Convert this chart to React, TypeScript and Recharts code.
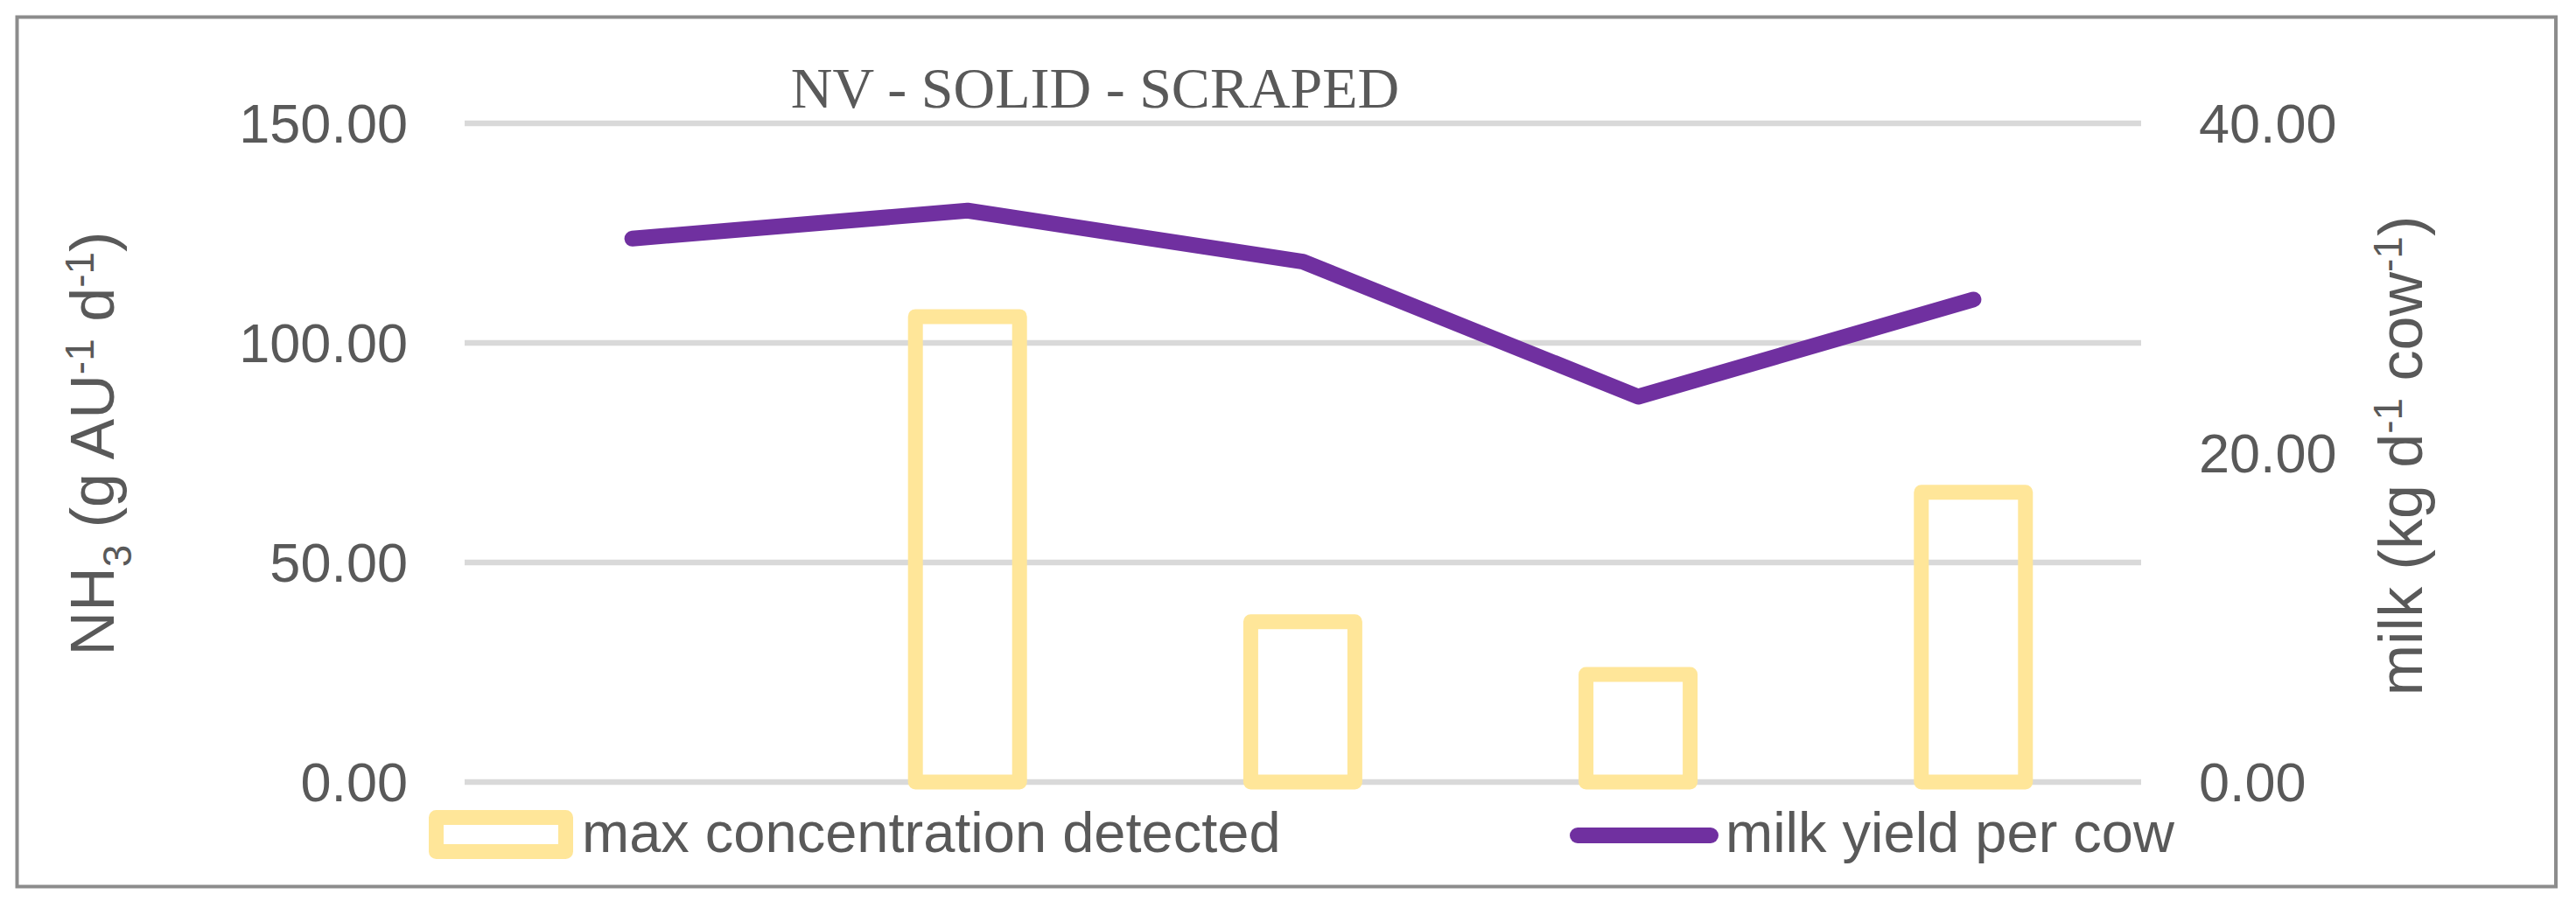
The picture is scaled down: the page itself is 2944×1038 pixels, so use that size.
import React from 'react';
import { ComposedChart, Bar, Line, XAxis, YAxis, CartesianGrid, Customized } from 'recharts';

const categories = ['1', '2', '3', '4', '5'];
const maxConcentration: (number | null)[] = [null, 106.0, 36.5, 24.5, 66.0];
const milkYield = [33.0, 34.7, 31.6, 23.4, 29.3];
const leftTicks = [0, 50, 100, 150];
const rightTicks = [0, 20, 40];

const title = 'NV - SOLID - SCRAPED';
const barName = 'max concentration detected';
const lineName = 'milk yield per cow';

const data = categories.map((c, i) => ({ cat: c, nh3: maxConcentration[i], milk: milkYield[i] }));

const TEXT = '#595959';
const SANS = '"Liberation Sans", Arial, sans-serif';
const SERIF = '"Liberation Serif", "Times New Roman", serif';
const BAR_COLOR = '#FFE699';
const LINE_COLOR = '#7030A0';

const Overlay = () => (
  <g>
    <rect x={19.5} y={19.5} width={2901.5} height={994} fill="none" stroke="#8C8C8C" strokeWidth={4} />
    <text x={1251.5} y={123} textAnchor="middle" fontFamily={SERIF} fontSize={66} fill={TEXT}>
      {title}
    </text>
    <text
      x={130}
      y={507}
      transform="rotate(-90 130 507)"
      textAnchor="middle"
      fontFamily={SANS}
      fontSize={70}
      fill={TEXT}
      style={{ whiteSpace: 'pre' }}
    >
      <tspan>NH</tspan>
      <tspan fontSize={46} dy={20}>3</tspan>
      <tspan dy={-20}>{' (g AU'}</tspan>
      <tspan fontSize={46} dy={-23}>-1</tspan>
      <tspan dy={23}>{' d'}</tspan>
      <tspan fontSize={46} dy={-23}>-1</tspan>
      <tspan dy={23}>)</tspan>
    </text>
    <text
      x={2768}
      y={521}
      transform="rotate(-90 2768 521)"
      textAnchor="middle"
      fontFamily={SANS}
      fontSize={70}
      fill={TEXT}
      style={{ whiteSpace: 'pre' }}
    >
      <tspan>{'milk (kg d'}</tspan>
      <tspan fontSize={46} dy={-23}>-1</tspan>
      <tspan dy={23}>{' cow'}</tspan>
      <tspan fontSize={46} dy={-23}>-1</tspan>
      <tspan dy={23}>)</tspan>
    </text>
    <rect x={498.5} y={934.5} width={148} height={39} fill="none" stroke={BAR_COLOR} strokeWidth={17} strokeLinejoin="round" />
    <text x={665} y={974} fontFamily={SANS} fontSize={65} fill={TEXT}>{barName}</text>
    <line x1={1803} y1={955} x2={1955} y2={955} stroke={LINE_COLOR} strokeWidth={18} strokeLinecap="round" />
    <text x={1972} y={974} fontFamily={SANS} fontSize={65} fill={TEXT}>{lineName}</text>
  </g>
);

const fmt = (v: number) => v.toFixed(2);

export default function App() {
  return (
    <div style={{ position: 'absolute', left: 0, top: 0, width: 2944, height: 1038, background: '#fff' }}>
      <ComposedChart
        width={2944}
        height={1038}
        data={data}
        margin={{ top: 141, right: 0, bottom: 144, left: 0 }}
      >
        <CartesianGrid yAxisId="left" vertical={false} stroke="#D9D9D9" strokeWidth={6.5} />
        <XAxis dataKey="cat" hide />
        <YAxis
          yAxisId="left"
          orientation="left"
          width={531}
          domain={[0, 150]}
          ticks={leftTicks}
          tickFormatter={fmt}
          axisLine={false}
          tickLine={false}
          tickSize={0}
          tickMargin={65}
          tick={{ fontFamily: SANS, fontSize: 63, fill: TEXT }}
        />
        <YAxis
          yAxisId="right"
          orientation="right"
          width={497}
          domain={[0, 40]}
          ticks={rightTicks}
          tickFormatter={fmt}
          axisLine={false}
          tickLine={false}
          tickSize={0}
          tickMargin={66}
          tick={{ fontFamily: SANS, fontSize: 63, fill: TEXT }}
        />
        <Bar
          yAxisId="left"
          dataKey="nh3"
          name={barName}
          fill="none"
          stroke={BAR_COLOR}
          strokeWidth={17}
          strokeLinejoin="round"
          barSize={119}
          isAnimationActive={false}
        />
        <Line
          yAxisId="right"
          dataKey="milk"
          name={lineName}
          type="linear"
          stroke={LINE_COLOR}
          strokeWidth={18}
          strokeLinecap="round"
          strokeLinejoin="round"
          dot={false}
          activeDot={false}
          isAnimationActive={false}
        />
        <Customized component={Overlay} />
      </ComposedChart>
    </div>
  );
}
